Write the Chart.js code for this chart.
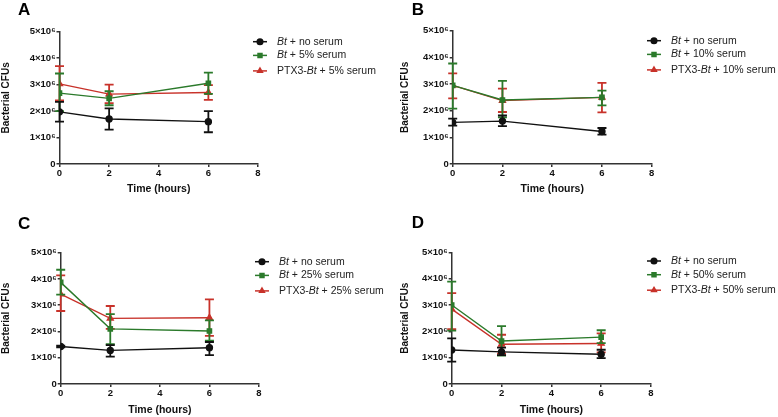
<!DOCTYPE html>
<html>
<head>
<meta charset="utf-8">
<script src="https://cdn.jsdelivr.net/npm/chart.js@4.4.1/dist/chart.umd.min.js"></script>
<style>
  html, body { margin: 0; padding: 0; background: #fff; }
  #wrap { position: relative; width: 778px; height: 417px; }
  .panel { position: absolute; width: 389px; height: 208px; }
</style>
</head>
<body>
<div id="wrap">
  <div class="panel" style="left:0;top:0"><canvas id="chartA"></canvas></div>
  <div class="panel" style="left:389px;top:0"><canvas id="chartB"></canvas></div>
  <div class="panel" style="left:0;top:208px"><canvas id="chartC"></canvas></div>
  <div class="panel" style="left:389px;top:208px"><canvas id="chartD"></canvas></div>
</div>
<script>
// sampling times (hours) and axis ticks
const times = [0, 2, 6];
const xTicks = [0, 2, 4, 6, 8];
const yTicks = [0, 1, 2, 3, 4, 5]; // x10^6

// legend labels per panel
const labelsA = ["Bt + no serum", "Bt + 5% serum", "PTX3-Bt + 5% serum"];
const labelsB = ["Bt + no serum", "Bt + 10% serum", "PTX3-Bt + 10% serum"];
const labelsC = ["Bt + no serum", "Bt + 25% serum", "PTX3-Bt + 25% serum"];
const labelsD = ["Bt + no serum", "Bt + 50% serum", "PTX3-Bt + 50% serum"];

// CFUs (x10^6): mean, lower and upper end of error bar, per series [no serum, serum, PTX3]
const meanA = [[1.97, 1.70, 1.60], [2.68, 2.48, 3.05], [3.03, 2.64, 2.70]];
const lowA  = [[1.60, 1.30, 1.20], [2.00, 2.22, 2.65], [2.40, 2.30, 2.42]];
const highA = [[2.35, 2.10, 2.00], [3.42, 2.75, 3.45], [3.70, 3.00, 2.98]];

const meanB = [[1.56, 1.61, 1.22], [2.95, 2.40, 2.50], [2.95, 2.38, 2.50]];
const lowB  = [[1.44, 1.42, 1.10], [2.08, 1.75, 2.20], [2.46, 1.95, 1.94]];
const highB = [[1.70, 1.82, 1.35], [3.77, 3.12, 2.75], [3.40, 2.83, 3.04]];

const meanC = [[1.43, 1.28, 1.38], [3.87, 2.10, 2.02], [3.42, 2.50, 2.52]];
const lowC  = [[1.40, 1.04, 1.10], [3.40, 1.52, 1.65], [2.78, 2.10, 1.83]];
const highC = [[1.46, 1.48, 1.60], [4.35, 2.66, 2.42], [4.14, 2.97, 3.22]];

const meanD = [[1.29, 1.22, 1.13], [3.00, 1.63, 1.78], [2.84, 1.51, 1.54]];
const lowD  = [[0.85, 1.10, 0.98], [2.03, 1.08, 1.55], [2.08, 1.15, 1.20]];
const highD = [[1.73, 1.38, 1.30], [3.89, 2.20, 2.04], [3.45, 1.87, 1.92]];

const colors = ["#111111", "#2b7a2b", "#c8322a"];
const markers = ["circle", "rect", "triangle"];
const FONT = "'Liberation Sans', Arial, sans-serif";

// draws the error bars under each dataset
const errorBars = {
  id: "errorBars",
  beforeDatasetDraw(chart, args) {
    const ds = chart.data.datasets[args.index];
    const yScale = chart.scales.y;
    const ctx = chart.ctx;
    ctx.save();
    ctx.strokeStyle = ds.borderColor;
    ctx.lineWidth = 1.8;
    args.meta.data.forEach((pt, i) => {
      const x = pt.x;
      const yl = yScale.getPixelForValue(ds.errLow[i]);
      const yh = yScale.getPixelForValue(ds.errHigh[i]);
      ctx.beginPath();
      ctx.moveTo(x, yl); ctx.lineTo(x, yh);
      ctx.moveTo(x - 4.5, yl); ctx.lineTo(x + 4.5, yl);
      ctx.moveTo(x - 4.5, yh); ctx.lineTo(x + 4.5, yh);
      ctx.stroke();
    });
    ctx.restore();
  }
};

// legend on the right with italic "Bt", plus the panel letter
const panelDecor = {
  id: "panelDecor",
  afterDraw(chart, args, opts) {
    const ctx = chart.ctx;
    ctx.save();
    ctx.fillStyle = "#000";
    ctx.font = "bold 17px " + FONT;
    ctx.textBaseline = "alphabetic";
    ctx.fillText(opts.letter, opts.letterX, opts.letterY);

    const rows = [0, 13.7, 29.2];
    chart.data.datasets.forEach((ds, i) => {
      const y = opts.legendY + rows[i];
      ctx.strokeStyle = ds.borderColor;
      ctx.lineWidth = 1.5;
      ctx.beginPath();
      ctx.moveTo(opts.legendX, y);
      ctx.lineTo(opts.legendX + 14, y);
      ctx.stroke();
      ctx.fillStyle = ds.borderColor;
      Chart.helpers.drawPoint(ctx, {
        pointStyle: ds.pointStyle, radius: 2.8, rotation: 0, borderWidth: 1
      }, opts.legendX + 7, y);
      ctx.fill();

      let x = opts.legendX + 24;
      ctx.fillStyle = "#222";
      ctx.textBaseline = "middle";
      ds.label.split(/(Bt)/).forEach(part => {
        if (!part) return;
        ctx.font = (part === "Bt" ? "italic " : "") + "10.5px " + FONT;
        ctx.fillText(part, x, y);
        x += ctx.measureText(part).width;
      });
    });
    ctx.restore();
  }
};

function makePanel(id, letter, labels, means, lows, highs, g) {
  const datasets = labels.map((lab, s) => ({
    label: lab,
    data: times.map((t, i) => ({ x: t, y: means[s][i] })),
    errLow: lows[s],
    errHigh: highs[s],
    borderColor: colors[s],
    backgroundColor: colors[s],
    borderWidth: 1.4,
    pointStyle: markers[s],
    pointRadius: s === 2 ? 3.4 : 3,
    pointBackgroundColor: colors[s],
    pointBorderColor: colors[s],
    tension: 0
  }));

  const yW = g.left - g.padLeft;
  const xH = g.scaleBottom - g.bottom;

  return new Chart(document.getElementById(id), {
    type: "line",
    data: { datasets },
    plugins: [errorBars, panelDecor],
    options: {
      responsive: true,
      maintainAspectRatio: false,
      animation: false,
      layout: {
        autoPadding: false,
        padding: { left: g.padLeft, top: g.top, right: 389 - g.right, bottom: 208 - g.scaleBottom }
      },
      plugins: {
        legend: { display: false },
        tooltip: { enabled: false },
        panelDecor: {
          letter, letterX: g.letterX, letterY: g.letterY,
          legendX: g.legendX, legendY: g.legendY
        }
      },
      scales: {
        x: {
          type: "linear",
          min: 0, max: 8,
          afterBuildTicks: sc => { sc.ticks = xTicks.map(v => ({ value: v })); },
          afterFit: sc => {
            sc.height = xH;
            sc.paddingLeft = 0; sc.paddingRight = 0; sc.paddingTop = 0; sc.paddingBottom = 0;
          },
          grid: { drawOnChartArea: false, drawTicks: true, tickLength: 3, color: "#333", lineWidth: 1.5 },
          border: { display: true, color: "#333", width: 1.5 },
          ticks: { color: "#111", padding: 1, maxRotation: 0, font: { family: FONT, weight: "bold", size: 9.5 } },
          title: {
            display: true, text: "Time (hours)", color: "#111", padding: 0,
            font: { family: FONT, weight: "bold", size: 10.5 }
          }
        },
        y: {
          min: 0, max: 5,
          afterBuildTicks: sc => { sc.ticks = yTicks.map(v => ({ value: v })); },
          afterFit: sc => {
            sc.width = yW;
            sc.paddingLeft = 0; sc.paddingRight = 0; sc.paddingTop = 0; sc.paddingBottom = 0;
          },
          grid: { drawOnChartArea: false, drawTicks: true, tickLength: 3, color: "#333", lineWidth: 1.5 },
          border: { display: true, color: "#333", width: 1.5 },
          ticks: {
            color: "#111", padding: 1,
            font: { family: FONT, weight: "bold", size: 9.5 },
            callback: v => (v === 0 ? "0" : v + "×10⁶")
          },
          title: {
            display: true, text: "Bacterial CFUs", color: "#111", padding: 0,
            font: { family: FONT, weight: "bold", size: 10 }
          }
        }
      }
    }
  });
}

makePanel("chartA", "A", labelsA, meanA, lowA, highA, {
  padLeft: 0, left: 59.5, right: 258, top: 31.7, bottom: 164, scaleBottom: 195,
  letterX: 18, letterY: 15, legendX: 253, legendY: 41.7
});
makePanel("chartB", "B", labelsB, meanB, lowB, highB, {
  padLeft: 10, left: 63.7, right: 262.7, top: 30.7, bottom: 164, scaleBottom: 195,
  letterX: 22.7, letterY: 15, legendX: 258, legendY: 40.7
});
makePanel("chartC", "C", labelsC, meanC, lowC, highC, {
  padLeft: 0, left: 60.7, right: 259, top: 44.7, bottom: 176, scaleBottom: 208,
  letterX: 18, letterY: 21, legendX: 255, legendY: 53.7
});
makePanel("chartD", "D", labelsD, meanD, lowD, highD, {
  padLeft: 10, left: 62.7, right: 262, top: 44.3, bottom: 176, scaleBottom: 208,
  letterX: 22.7, letterY: 20, legendX: 258, legendY: 53
});
</script>
</body>
</html>
